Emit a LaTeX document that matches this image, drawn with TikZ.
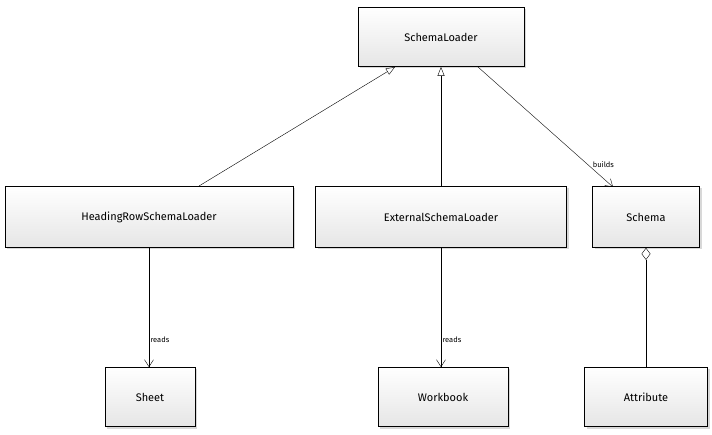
\documentclass[tikz,border=0pt]{standalone}
\usepackage{fontspec}
\setmainfont{Fira Sans}
\usetikzlibrary{arrows.meta,shadows}
\begin{document}
\begin{tikzpicture}[x=1pt,y=-1pt,
  cls/.style={draw=black,thick,top color=white,bottom color=gray!20,drop shadow={shadow xshift=2pt,shadow yshift=-2pt,fill=gray!60},font=\fontsize{11}{13}\selectfont,inner sep=0pt},
  lbl/.style={font=\fontsize{7.5}{9}\selectfont},
  conn/.style={draw=black,thin}]
\useasboundingbox (0,0) rectangle (712,435);
\node[cls,minimum width=166,minimum height=59] (sl) at (441,37) {SchemaLoader};
\node[cls,minimum width=288,minimum height=61] (hr) at (149,217) {HeadingRowSchemaLoader};
\node[cls,minimum width=251,minimum height=61] (es) at (441,217) {ExternalSchemaLoader};
\node[cls,minimum width=107,minimum height=61] (sc) at (646,217) {Schema};
\node[cls,minimum width=90,minimum height=59] (sh) at (150,397) {Sheet};
\node[cls,minimum width=130,minimum height=59] (wb) at (443,397) {Workbook};
\node[cls,minimum width=123,minimum height=59] (at) at (646,397) {Attribute};
\coordinate (hrt) at (199,186);
\coordinate (slh) at (395,67);
\draw[conn,-{Triangle[open,length=9pt,width=7pt]}] (hrt) -- (slh);
\draw[conn,-{Triangle[open,length=9pt,width=7pt]}] (es.north) -- (sl.south);
\coordinate (slb) at (478,67);
\coordinate (sct) at (613,187);
\draw[conn,-{Straight Barb[length=7pt,width=9pt]}] (slb) -- (sct) node[lbl,pos=0.81,right=2pt] {builds};
\draw[conn,-{Straight Barb[length=7pt,width=9pt]}] (hr.south) -- (hr.south |- sh.north) node[lbl,pos=0.77,right=-2pt] {reads};
\draw[conn,-{Straight Barb[length=7pt,width=9pt]}] (es.south) -- (es.south |- wb.north) node[lbl,pos=0.77,right=-2pt] {reads};
\draw[conn,{Diamond[open,length=12pt,width=9pt]}-] (sc.south) -- (at.north);
\end{tikzpicture}
\end{document}
